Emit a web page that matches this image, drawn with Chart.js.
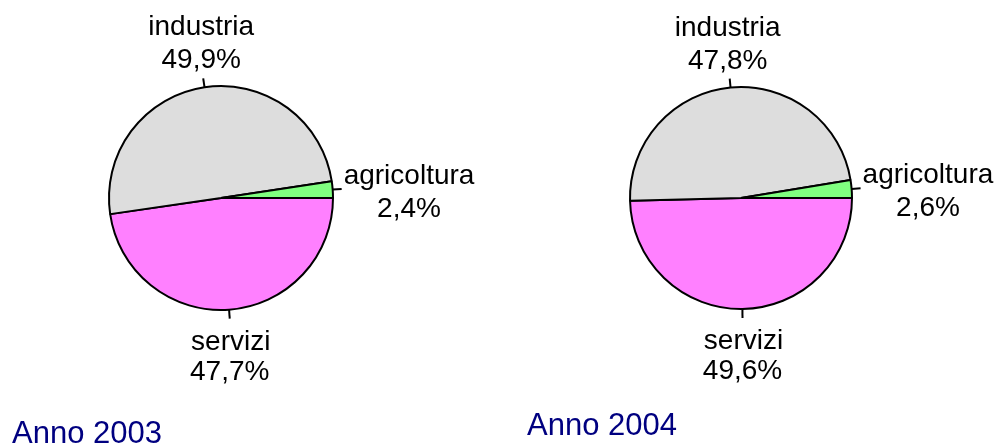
<!DOCTYPE html>
<html>
<head>
<meta charset="utf-8">
<script src="https://cdn.jsdelivr.net/npm/chart.js@4.4.0/dist/chart.umd.min.js"></script>
<style>
body { margin: 0; background: #fff; width: 1002px; height: 446px; overflow: hidden; }
.box { position: absolute; top: 0; width: 501px; height: 446px; }
</style>
</head>
<body>
<div class="box" style="left:0"><canvas id="c2003" width="501" height="446"></canvas></div>
<div class="box" style="left:501px"><canvas id="c2004" width="501" height="446"></canvas></div>
<script>
// ordine in senso orario partendo da destra (ore 3)
const settori = ['servizi', 'industria', 'agricoltura']
const quote2003 = [47.7, 49.9, 2.4]
const quote2004 = [49.6, 47.8, 2.6]
const colori = ['#ff80ff', '#dddddd', '#80ff80']

const font = '"Liberation Sans", Arial, sans-serif'

// etichette esterne con trattino + titolo "Anno ..."
const etichette = {
    id: 'etichette',
    afterDraw(chart, args, opts) {
        const ctx = chart.ctx
        const meta = chart.getDatasetMeta(0)
        const valori = chart.data.datasets[0].data
        ctx.save()
        ctx.font = '28px ' + font
        ctx.fillStyle = '#000'
        ctx.strokeStyle = '#000'
        ctx.lineWidth = 2
        ctx.textAlign = 'center'
        meta.data.forEach((arc, i) => {
            const a = (arc.startAngle + arc.endAngle) / 2
            const r = arc.outerRadius
            const x0 = arc.x + Math.cos(a) * r
            const y0 = arc.y + Math.sin(a) * r
            const x1 = arc.x + Math.cos(a) * (r + 9)
            const y1 = arc.y + Math.sin(a) * (r + 9)
            ctx.beginPath()
            ctx.moveTo(x0, y0)
            ctx.lineTo(x1, y1)
            ctx.stroke()
            const righe = [chart.data.labels[i], valori[i].toFixed(1).replace('.', ',') + '%']
            if (Math.abs(Math.cos(a)) > 0.7) {
                const w = ctx.measureText(righe[0]).width
                const cx = x1 + 2 + w / 2
                ctx.fillText(righe[0], cx, y1 - 5)
                ctx.fillText(righe[1], cx, y1 + 28)
            } else if (Math.sin(a) < 0) {
                ctx.fillText(righe[0], x1 - 2, y1 - 43)
                ctx.fillText(righe[1], x1 - 2, y1 - 10)
            } else {
                ctx.fillText(righe[0], x1 + 1, y1 + 31)
                ctx.fillText(righe[1], x1, y1 + 61)
            }
        })
        ctx.font = '31px ' + font
        ctx.fillStyle = '#000080'
        ctx.textAlign = 'left'
        ctx.fillText(opts.anno, opts.x, opts.y)
        ctx.restore()
    }
}

function torta(id, valori, padding, anno) {
    new Chart(document.getElementById(id), {
        type: 'pie',
        data: {
            labels: settori,
            datasets: [{
                data: valori,
                backgroundColor: colori,
                borderColor: '#000',
                borderWidth: 2,
                hoverOffset: 0
            }]
        },
        options: {
            responsive: false,
            animation: false,
            rotation: 90,
            layout: { padding: padding },
            plugins: {
                legend: { display: false },
                tooltip: { enabled: false },
                etichette: anno
            }
        },
        plugins: [etichette]
    })
}

torta('c2003', quote2003, { left: 108, top: 85, right: 167, bottom: 135 }, { anno: 'Anno 2003', x: 12, y: 443 })
torta('c2004', quote2004, { left: 128, top: 86, right: 149, bottom: 136 }, { anno: 'Anno 2004', x: 26, y: 435 })
</script>
</body>
</html>
